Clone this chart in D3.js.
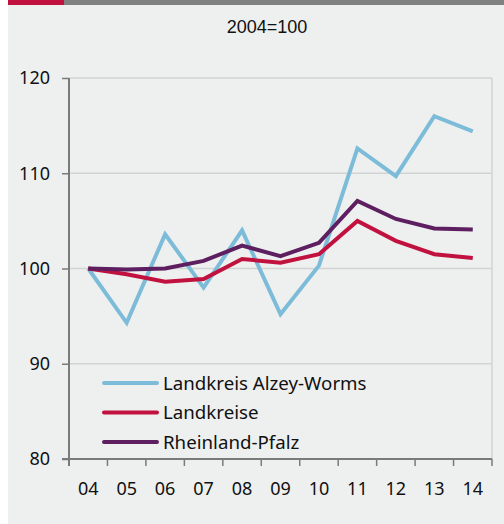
<!DOCTYPE html>
<html>
<head>
<meta charset="utf-8">
<script src="https://cdn.jsdelivr.net/npm/d3@7"></script>
<style>
  body { margin: 0; background: #fff; }
  svg { display: block; }
</style>
</head>
<body>
<div id="chart"></div>
<script>
var years = ["04", "05", "06", "07", "08", "09", "10", "11", "12", "13", "14"];
var alzeyWorms = [100, 94.3, 103.6, 98.0, 104.0, 95.2, 100.3, 112.6, 109.7, 116.0, 114.4];
var landkreise = [100, 99.4, 98.6, 98.9, 101.0, 100.6, 101.5, 105.0, 102.9, 101.5, 101.1];
var rheinlandPfalz = [100, 99.9, 100.0, 100.8, 102.4, 101.3, 102.7, 107.1, 105.2, 104.2, 104.1];
var yTicks = [80, 90, 100, 110, 120];

var series = [
    { name: "Landkreis Alzey-Worms", values: alzeyWorms, color: "#7dbcd9" },
    { name: "Landkreise", values: landkreise, color: "#c1113f" },
    { name: "Rheinland-Pfalz", values: rheinlandPfalz, color: "#5d1f5f" }
];

var W = 504, H = 524;
var svg = d3.select("#chart").append("svg")
    .attr("width", W)
    .attr("height", H);

// panel background
svg.append("rect")
    .attr("x", 8).attr("y", 0)
    .attr("width", W - 8).attr("height", H)
    .attr("fill", "#eef0ef");

// top strip
svg.append("rect")
    .attr("x", 8).attr("y", 0)
    .attr("width", 56).attr("height", 5)
    .attr("fill", "#c1113f");
svg.append("rect")
    .attr("x", 64).attr("y", 0)
    .attr("width", W - 64).attr("height", 5)
    .attr("fill", "#808080");

svg.append("text")
    .attr("x", 267).attr("y", 33)
    .attr("text-anchor", "middle")
    .style("font-family", "Liberation Sans, Arial, sans-serif")
    .style("font-size", "18px")
    .attr("fill", "#111")
    .text("2004=100");

var plotLeft = 69, plotRight = 492, plotTop = 78, plotBottom = 459;

var x = d3.scaleBand().domain(years).range([plotLeft, plotRight]);
var y = d3.scaleLinear().domain([80, 120]).range([plotBottom, plotTop]);

var font = "'Noto Sans', 'Open Sans', sans-serif";

// grid
svg.append("g").selectAll("line")
    .data(yTicks.filter(function (d) { return d > 80; }))
    .enter().append("line")
    .attr("x1", plotLeft).attr("x2", plotRight)
    .attr("y1", function (d) { return y(d); })
    .attr("y2", function (d) { return y(d); })
    .attr("stroke", "#d2d4d4")
    .attr("stroke-width", 1.5);

svg.append("line")
    .attr("x1", plotRight).attr("x2", plotRight)
    .attr("y1", plotTop).attr("y2", plotBottom)
    .attr("stroke", "#d2d4d4")
    .attr("stroke-width", 1.5);

// y axis
var yAxis = d3.axisLeft(y).tickValues(yTicks).tickSize(7).tickPadding(12);
var gy = svg.append("g")
    .attr("transform", "translate(" + plotLeft + ",0)")
    .call(yAxis);
gy.select(".domain").remove();
gy.selectAll(".tick line").attr("stroke", "#7a7a7a").attr("stroke-width", 1.5);
gy.selectAll("text")
    .style("font-family", font)
    .style("font-size", "18px")
    .attr("fill", "#111");

// x axis: ticks at band boundaries
var boundaries = years.map(function (d) { return x(d); }).concat([plotRight]);
svg.append("g").selectAll("line")
    .data(boundaries)
    .enter().append("line")
    .attr("x1", function (d) { return d; })
    .attr("x2", function (d) { return d; })
    .attr("y1", plotBottom).attr("y2", plotBottom + 7)
    .attr("stroke", "#7a7a7a")
    .attr("stroke-width", 1.5);

svg.append("line")
    .attr("x1", plotLeft - 7).attr("x2", plotRight)
    .attr("y1", plotBottom).attr("y2", plotBottom)
    .attr("stroke", "#7a7a7a")
    .attr("stroke-width", 2);
svg.append("line")
    .attr("x1", plotLeft).attr("x2", plotLeft)
    .attr("y1", plotTop).attr("y2", plotBottom + 7)
    .attr("stroke", "#7a7a7a")
    .attr("stroke-width", 2);

svg.append("g").selectAll("text")
    .data(years)
    .enter().append("text")
    .attr("x", function (d) { return x(d) + x.bandwidth() / 2; })
    .attr("y", 495)
    .attr("text-anchor", "middle")
    .style("font-family", font)
    .style("font-size", "18px")
    .attr("fill", "#111")
    .text(function (d) { return d; });

// lines
var line = d3.line()
    .x(function (d, i) { return x(years[i]) + x.bandwidth() / 2; })
    .y(function (d) { return y(d); });

svg.append("g").selectAll("path")
    .data(series)
    .enter().append("path")
    .attr("d", function (d) { return line(d.values); })
    .attr("fill", "none")
    .attr("stroke", function (d) { return d.color; })
    .attr("stroke-width", 4)
    .attr("stroke-linejoin", "miter");

// legend
var legend = svg.append("g").selectAll("g")
    .data(series)
    .enter().append("g")
    .attr("transform", function (d, i) { return "translate(104," + (383 + i * 29.5) + ")"; });

legend.append("line")
    .attr("x1", 0).attr("x2", 53)
    .attr("stroke", function (d) { return d.color; })
    .attr("stroke-width", 4)
    .attr("stroke-linecap", "round");

legend.append("text")
    .attr("x", 59).attr("y", 6.5)
    .style("font-family", font)
    .style("font-size", "18.7px")
    .attr("fill", "#111")
    .text(function (d) { return d.name; });
</script>
</body>
</html>
